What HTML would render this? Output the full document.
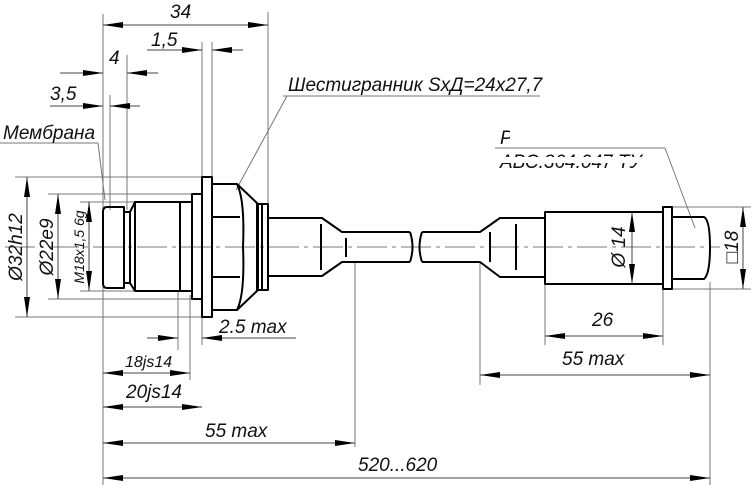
<!DOCTYPE html>
<html><head><meta charset="utf-8"><style>
html,body{margin:0;padding:0;background:#fff;}
svg{display:block}
text{font-family:"Liberation Sans",sans-serif;font-style:italic;fill:#111}
</style></head><body>
<svg width="751" height="485" viewBox="0 0 751 485" xmlns="http://www.w3.org/2000/svg">
<defs>
<marker id="a" viewBox="0 0 20 6" refX="20" refY="3" markerWidth="20" markerHeight="6" markerUnits="userSpaceOnUse" orient="auto-start-reverse"><path d="M0,0 L20,3 L0,6 Z" fill="#000"/></marker>
</defs>
<g stroke="#777" stroke-width="1" fill="none">
<line x1="103" y1="14" x2="103" y2="485"/>
<line x1="268" y1="12" x2="268" y2="205"/>
<line x1="202" y1="42" x2="202" y2="345"/>
<line x1="212" y1="42" x2="212" y2="180"/>
<line x1="127" y1="55" x2="127" y2="210"/>
<line x1="110" y1="95" x2="110" y2="210"/>
<line x1="178" y1="290" x2="178" y2="350"/>
<line x1="190" y1="295" x2="190" y2="380"/>
<line x1="355" y1="262" x2="355" y2="447"/>
<line x1="480" y1="262" x2="480" y2="385"/>
<line x1="545" y1="284" x2="545" y2="345"/>
<line x1="663" y1="290" x2="663" y2="345"/>
<line x1="710" y1="282" x2="710" y2="485"/>
<line x1="15" y1="177" x2="205" y2="177"/>
<line x1="15" y1="317" x2="205" y2="317"/>
<line x1="48" y1="194" x2="195" y2="194"/>
<line x1="48" y1="299" x2="195" y2="299"/>
<line x1="80" y1="202" x2="135" y2="202"/>
<line x1="80" y1="291" x2="135" y2="291"/>
<line x1="672" y1="207" x2="751" y2="207"/>
<line x1="672" y1="289" x2="751" y2="289"/>
<line x1="5" y1="247" x2="720" y2="247" stroke-dasharray="30,5,4,5"/>
<line x1="0" y1="143" x2="98" y2="143"/>
<line x1="98" y1="143" x2="105" y2="200"/>
<line x1="283" y1="96" x2="540" y2="96"/>
<line x1="287" y1="96" x2="236" y2="190"/>
<line x1="495" y1="148" x2="665" y2="148"/>
<line x1="665" y1="148" x2="695" y2="228"/>
</g>
<g stroke="#444" stroke-width="1" fill="none">
<line x1="103" y1="25" x2="268" y2="25" marker-start="url(#a)" marker-end="url(#a)"/>
<line x1="147" y1="50" x2="202" y2="50" marker-end="url(#a)"/>
<line x1="243" y1="50" x2="212" y2="50" marker-end="url(#a)"/>
<line x1="60" y1="73" x2="103" y2="73" marker-end="url(#a)"/>
<line x1="158" y1="73" x2="127" y2="73" marker-end="url(#a)"/>
<line x1="50" y1="106" x2="103" y2="106" marker-end="url(#a)"/>
<line x1="140" y1="106" x2="110" y2="106" marker-end="url(#a)"/>
<line x1="27" y1="177" x2="27" y2="317" marker-start="url(#a)" marker-end="url(#a)"/>
<line x1="58" y1="194" x2="58" y2="299" marker-start="url(#a)" marker-end="url(#a)"/>
<line x1="89" y1="202" x2="89" y2="291" marker-start="url(#a)" marker-end="url(#a)"/>
<line x1="147" y1="338" x2="178" y2="338" marker-end="url(#a)"/>
<line x1="296" y1="338" x2="202" y2="338" marker-end="url(#a)"/>
<line x1="103" y1="373" x2="190" y2="373" marker-start="url(#a)" marker-end="url(#a)"/>
<line x1="103" y1="407" x2="202" y2="407" marker-start="url(#a)" marker-end="url(#a)"/>
<line x1="103" y1="443" x2="355" y2="443" marker-start="url(#a)" marker-end="url(#a)"/>
<line x1="103" y1="478" x2="710" y2="478" marker-start="url(#a)" marker-end="url(#a)"/>
<line x1="545" y1="336" x2="663" y2="336" marker-start="url(#a)" marker-end="url(#a)"/>
<line x1="480" y1="375" x2="710" y2="375" marker-start="url(#a)" marker-end="url(#a)"/>
<line x1="632" y1="212" x2="632" y2="284" marker-start="url(#a)" marker-end="url(#a)"/>
<line x1="743" y1="207" x2="743" y2="289" marker-start="url(#a)" marker-end="url(#a)"/>
</g>
<g stroke="#000" stroke-width="2" fill="none" stroke-linejoin="round">
<path d="M124,207 L107,207 Q103,207 103,212 L103,283 Q103,288 107,288 L124,288 Z"/>
<path d="M124,212 L130,212 L130,283 L124,283"/>
<path d="M130,212 L135,202 L192,202 L192,291 L135,291 L130,283"/>
<line x1="135" y1="202" x2="135" y2="291"/>
<line x1="180" y1="202" x2="180" y2="291"/>
<rect x="192" y="194" width="10" height="105"/>
<rect x="202" y="177" width="10" height="140"/>
<path d="M212,184 L237,184 Q245,200 243,247 Q245,294 237,310 L212,310 Z"/>
<line x1="212" y1="217" x2="240" y2="217"/><line x1="212" y1="277" x2="240" y2="277"/>
<path d="M237,184 L258,204 L258,290 L237,310"/>
<rect x="257" y="204" width="11" height="86"/>
<line x1="262" y1="204" x2="262" y2="290"/>
<path d="M268,218 L322,218 L342,232 L410,232"/>
<path d="M268,276 L322,276 L342,262 L410,262"/>
<path d="M410,232 Q415,247 410,262"/>
<path d="M422,232 Q417,247 422,262"/>
<path d="M422,232 L480,232 L500,218 L545,218"/>
<path d="M422,262 L480,262 L500,277 L545,277"/>
<line x1="321" y1="224" x2="321" y2="270"/>
<line x1="346" y1="238" x2="346" y2="257"/>
<line x1="490" y1="232" x2="490" y2="262"/>
<line x1="516" y1="224" x2="516" y2="270"/>
<rect x="545" y="212" width="118" height="72"/>
<rect x="663" y="207" width="9" height="82"/>
<path d="M672,217 L704,217 Q710,220 710,247 Q710,274 704,279 L672,279"/>
</g>
<g font-size="19">
<text x="170" y="18">34</text>
<text x="151" y="46">1,5</text>
<text x="109" y="64">4</text>
<text x="50" y="100">3,5</text>
<text x="3" y="139">Мембрана</text>
<text x="288" y="91">Шестигранник SxД=24x27,7</text>
<text x="219" y="333">2.5 max</text>
<text x="126" y="398">20js14</text>
<text x="205" y="437">55 max</text>
<text x="358" y="471">520...620</text>
<text x="592" y="326">26</text>
<text x="562" y="365">55 max</text>
<text x="500" y="144">Разъём</text>
<text x="500" y="168">АВС.364.047 ТУ</text>
<text font-size="16" x="125" y="367">18js14</text>
<text transform="translate(22,247) rotate(-90)" text-anchor="middle">Ø32h12</text>
<text transform="translate(53,247) rotate(-90)" text-anchor="middle">Ø22e9</text>
<text font-size="14" transform="translate(84,247) rotate(-90)" text-anchor="middle">M18x1,5 6g</text>
<text transform="translate(625,247) rotate(-90)" text-anchor="middle">Ø 14</text>
<text transform="translate(738,247) rotate(-90)" text-anchor="middle">□18</text>
</g>
<rect x="510" y="124" width="165" height="21" fill="#fff"/>
<rect x="495" y="157" width="150" height="6" fill="#fff"/>
</svg>
</body></html>
